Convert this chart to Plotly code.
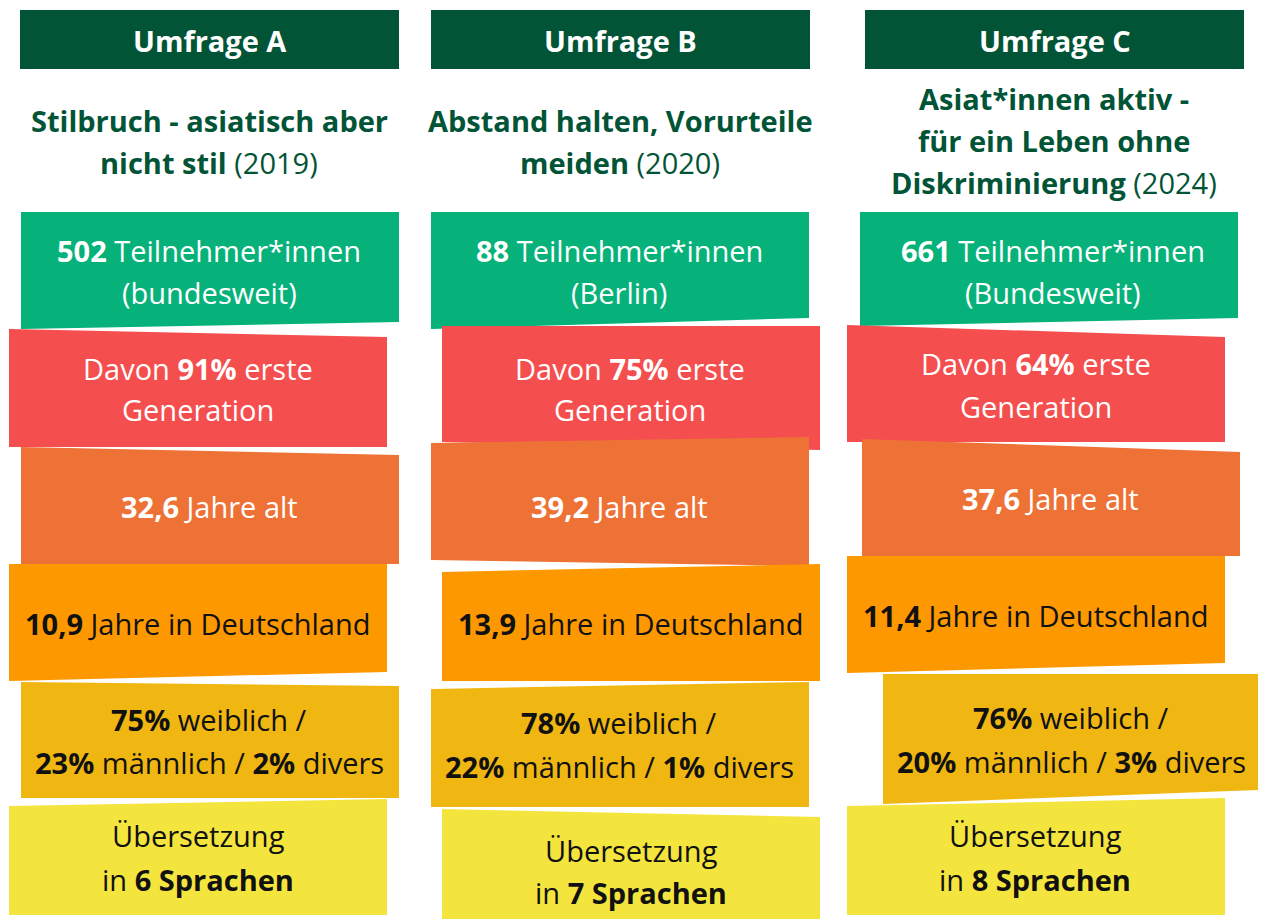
import plotly.graph_objects as go

# ---------------- data ----------------
surveys = ["Umfrage A", "Umfrage B", "Umfrage C"]
title_lines = [
    ["Stilbruch - asiatisch aber", "nicht stil"],
    ["Abstand halten, Vorurteile", "meiden"],
    ["Asiat*innen aktiv -", "für ein Leben ohne", "Diskriminierung"],
]
years = [2019, 2020, 2024]
participants = [502, 88, 661]
regions = ["bundesweit", "Berlin", "Bundesweit"]
first_gen_pct = [91, 75, 64]
age_years = [32.6, 39.2, 37.6]
years_in_de = [10.9, 13.9, 11.4]
female_pct = [75, 78, 76]
male_pct = [23, 22, 20]
diverse_pct = [2, 1, 3]
languages = [6, 7, 8]

# ---------------- layout / style ----------------
W, H = 1266, 919
OFF = 8  # page body margin
FONT = "Open Sans"
FS = 29
TY = -2  # vertical text nudge
DARK_GREEN = "#015435"
ROW_COLORS = ["#06B27A", "#F44E4E", "#EE7136", "#FD9801", "#F0B712", "#F4E53E"]
ROW_TEXT = ["white", "white", "white", "#111111", "#111111", "#111111"]

header_x = [(20, 399), (431, 810), (865, 1244)]
header_y = (10, 69)
title_cx = [209, 620, 1054]
title_first_y = [122, 122, 100]
title_step = 42

# quadrilateral corners per column/row: TL, TR, BR, BL
boxes = [
    [
        [(21, 212), (399, 212), (399, 322), (21, 329)],
        [(9, 329), (387, 337), (387, 447), (9, 447)],
        [(21, 447), (399, 455), (399, 564), (21, 564)],
        [(9, 564), (387, 564), (387, 672), (9, 681)],
        [(21, 682), (399, 686), (399, 798), (21, 798)],
        [(9, 806), (387, 799), (387, 915), (9, 915)],
    ],
    [
        [(431, 212), (809, 212), (809, 318), (431, 329)],
        [(442, 326), (820, 326), (820, 450), (442, 442)],
        [(431, 443), (809, 437), (809, 566), (431, 560)],
        [(442, 572), (820, 564), (820, 681), (442, 681)],
        [(431, 689), (809, 682), (809, 807), (431, 807)],
        [(442, 809), (820, 817), (820, 919), (442, 919)],
    ],
    [
        [(860, 212), (1238, 212), (1238, 318), (860, 326)],
        [(847, 325), (1225, 337), (1225, 442), (847, 442)],
        [(862, 439), (1240, 452), (1240, 556), (862, 556)],
        [(847, 556), (1225, 556), (1225, 663), (847, 673)],
        [(883, 674), (1261, 674), (1261, 790), (883, 804)],
        [(847, 806), (1225, 798), (1225, 915), (847, 915)],
    ],
]
# text line positions (x center, list of y) per column/row
text_pos = [
    [(209, [252, 294]), (198, [370, 411]), (209, [508]), (197, [625]), (209, [721, 764]), (198, [837, 881])],
    [(619, [252, 294]), (630, [370, 411]), (619, [508]), (630, [625]), (619, [724, 768]), (631, [852, 894])],
    [(1053, [252, 294]), (1036, [365, 408]), (1050, [500]), (1035, [617]), (1071, [719, 763]), (1035, [837, 881])],
]


def de(v):
    return f"{v:.1f}".replace(".", ",")


def row_texts(i):
    return [
        [f"<b>{participants[i]}</b> Teilnehmer*innen", f"({regions[i]})"],
        [f"Davon <b>{first_gen_pct[i]}%</b> erste", "Generation"],
        [f"<b>{de(age_years[i])}</b> Jahre alt"],
        [f"<b>{de(years_in_de[i])}</b> Jahre in Deutschland"],
        [f"<b>{female_pct[i]}%</b> weiblich /",
         f"<b>{male_pct[i]}%</b> männlich / <b>{diverse_pct[i]}%</b> divers"],
        ["Übersetzung", f"in <b>{languages[i]} Sprachen</b>"],
    ]


fig = go.Figure()
annotations = []

for i, name in enumerate(surveys):
    x0, x1 = header_x[i]
    fig.add_shape(type="rect", x0=x0, x1=x1, y0=header_y[0], y1=header_y[1],
                  xref="x", yref="y", fillcolor=DARK_GREEN, line=dict(width=0), layer="below")
    annotations.append(dict(x=(x0 + x1) / 2, y=(header_y[0] + header_y[1]) / 2 + 1, text=f"<b>{name}</b>",
                            font=dict(family=FONT, size=FS, color="white")))
    lines = title_lines[i]
    for k, ln in enumerate(lines):
        txt = f"<b>{ln}</b>"
        if k == len(lines) - 1:
            txt += f" ({years[i]})"
        annotations.append(dict(x=title_cx[i], y=title_first_y[i] + k * title_step + TY, text=txt,
                                font=dict(family=FONT, size=FS, color=DARK_GREEN)))
    texts = row_texts(i)
    for r, quad in enumerate(boxes[i]):
        xs = [p[0] for p in quad] + [quad[0][0]]
        ys = [p[1] for p in quad] + [quad[0][1]]
        fig.add_trace(go.Scatter(x=xs, y=ys, mode="lines", fill="toself",
                                 fillcolor=ROW_COLORS[r], line=dict(width=0, color=ROW_COLORS[r]),
                                 hoverinfo="skip", showlegend=False))
        cx, ylist = text_pos[i][r]
        for ln, yy in zip(texts[r], ylist):
            annotations.append(dict(x=cx, y=yy + TY, text=ln,
                                    font=dict(family=FONT, size=FS, color=ROW_TEXT[r])))

for a in annotations:
    a.update(xref="x", yref="y", showarrow=False, xanchor="center", yanchor="middle")

fig.update_layout(
    width=W - OFF, height=H - OFF,
    margin=dict(l=0, r=0, t=0, b=0),
    paper_bgcolor="white", plot_bgcolor="white",
    xaxis=dict(range=[OFF, W], visible=False, fixedrange=True),
    yaxis=dict(range=[H, OFF], visible=False, fixedrange=True),
    annotations=annotations,
    showlegend=False,
)

fig.write_html("out.html", config={"displayModeBar": False})
